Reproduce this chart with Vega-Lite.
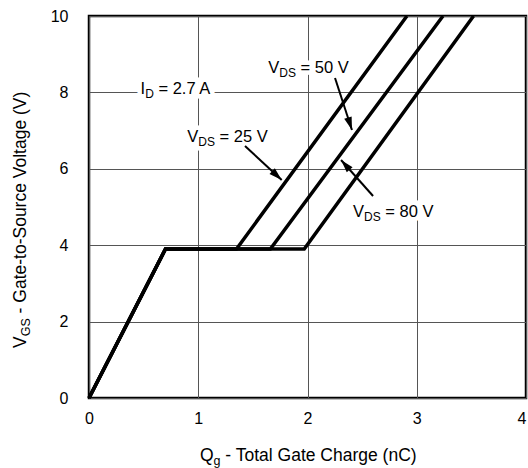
{
  "$schema": "https://vega.github.io/schema/vega-lite/v6.json",
  "width": 437,
  "height": 382,
  "autosize": {"type": "none"},
  "padding": {"left": 89, "top": 16, "right": 2, "bottom": 70},
  "background": "white",
  "config": {
    "font": "Liberation Sans",
    "view": {"stroke": "black", "strokeWidth": 2.5},
    "axis": {
      "grid": true, "gridColor": "#555", "gridWidth": 1, "gridOpacity": 1,
      "ticks": false, "tickSize": 0, "domain": false, "labelFlush": false,
      "labelFont": "Liberation Sans", "labelFontSize": 16, "labelColor": "black"
    }
  },
  "datasets": {
    "curves": [
      {"series": "25 V", "x": 0, "y": 0},
      {"series": "25 V", "x": 0.70, "y": 3.9},
      {"series": "25 V", "x": 1.35, "y": 3.9},
      {"series": "25 V", "x": 2.91, "y": 10},
      {"series": "50 V", "x": 0, "y": 0},
      {"series": "50 V", "x": 0.70, "y": 3.9},
      {"series": "50 V", "x": 1.66, "y": 3.9},
      {"series": "50 V", "x": 3.24, "y": 10},
      {"series": "80 V", "x": 0, "y": 0},
      {"series": "80 V", "x": 0.70, "y": 3.9},
      {"series": "80 V", "x": 1.97, "y": 3.9},
      {"series": "80 V", "x": 3.52, "y": 10}
    ],
    "arrows": [
      {"lab": "25", "x": 1.428, "y": 6.597, "x2": 1.764, "y2": 5.707},
      {"lab": "50", "x": 2.252, "y": 8.377, "x2": 2.407, "y2": 7.016},
      {"lab": "80", "x": 2.600, "y": 5.288, "x2": 2.307, "y2": 6.230}
    ],
    "labels": [
      {"id": "id", "main": "I", "sub": "D", "rest": "= 2.7 A", "x": 0.514, "y": 7.95},
      {"id": "v50", "main": "V", "sub": "DS", "rest": "= 50 V", "x": 1.742, "y": 8.508},
      {"id": "v25", "main": "V", "sub": "DS", "rest": "= 25 V", "x": 1.0, "y": 6.71},
      {"id": "v80", "main": "V", "sub": "DS", "rest": "= 80 V", "x": 2.517, "y": 4.73}
    ],
    "titles": [
      {"kind": "x", "main": "Q", "sub": "g", "rest": "- Total Gate Charge (nC)", "x": 1.14, "y": -1.649},
      {"kind": "y", "main": "V", "sub": "GS", "rest": "- Gate-to-Source Voltage (V)", "x": -0.577, "y": 1.615}
    ]
  },
  "encoding": {
    "x": {"field": "x", "type": "quantitative", "scale": {"domain": [0, 4]}, "axis": {"values": [0, 1, 2, 3, 4], "title": null, "labelPadding": 12, "labelFlush": false, "labelAlign": {"condition": {"test": "datum.value === 4", "value": "right"}, "value": "center"}}},
    "y": {"field": "y", "type": "quantitative", "scale": {"domain": [0, 10]}, "axis": {"values": [0, 2, 4, 6, 8, 10], "title": null, "labelPadding": 21, "labelFlush": false}}
  },
  "layer": [
    {
      "data": {"name": "labels"},
      "mark": {"type": "text", "font": "Liberation Sans", "fontSize": 16.5, "align": "right", "baseline": "alphabetic", "fill": "white", "stroke": "white", "strokeWidth": 9, "clip": false},
      "encoding": {"text": {"field": "main"}}
    },
    {
      "data": {"name": "labels"},
      "mark": {"type": "text", "font": "Liberation Sans", "fontSize": 12, "align": "left", "baseline": "alphabetic", "dy": 4, "fill": "white", "stroke": "white", "strokeWidth": 9, "clip": false},
      "encoding": {"text": {"field": "sub"}}
    },
    {
      "data": {"name": "labels"},
      "transform": [{"filter": "datum.sub === 'DS'"}],
      "mark": {"type": "text", "font": "Liberation Sans", "fontSize": 16.5, "align": "left", "baseline": "alphabetic", "dx": 21.3, "fill": "white", "stroke": "white", "strokeWidth": 9, "clip": false},
      "encoding": {"text": {"field": "rest"}}
    },
    {
      "data": {"name": "labels"},
      "transform": [{"filter": "datum.sub === 'D'"}],
      "mark": {"type": "text", "font": "Liberation Sans", "fontSize": 16.5, "align": "left", "baseline": "alphabetic", "dx": 13.3, "fill": "white", "stroke": "white", "strokeWidth": 9, "clip": false},
      "encoding": {"text": {"field": "rest"}}
    },
    {
      "data": {"name": "curves"},
      "mark": {"type": "line", "color": "black", "strokeWidth": 3.5, "strokeJoin": "miter"},
      "encoding": {"detail": {"field": "series"}}
    },
    {
      "data": {"name": "arrows"},
      "mark": {"type": "rule", "color": "black", "strokeWidth": 2},
      "encoding": {"x2": {"field": "x2"}, "y2": {"field": "y2"}}
    },
    {
      "data": {"name": "arrows"},
      "transform": [{"filter": "datum.lab === '25'"}],
      "mark": {"type": "point", "shape": "M0,0L-0.6,2L0.6,2Z", "size": 169, "filled": true, "color": "black", "opacity": 1, "strokeWidth": 0, "angle": 132.8},
      "encoding": {
        "x": {"field": "x2", "type": "quantitative", "scale": {"domain": [0, 4]}, "axis": {"values": [0, 1, 2, 3, 4], "title": null, "labelPadding": 12, "labelFlush": false, "labelAlign": {"condition": {"test": "datum.value === 4", "value": "right"}, "value": "center"}}},
        "y": {"field": "y2", "type": "quantitative", "scale": {"domain": [0, 10]}, "axis": {"values": [0, 2, 4, 6, 8, 10], "title": null, "labelPadding": 21, "labelFlush": false}}
      }
    },
    {
      "data": {"name": "arrows"},
      "transform": [{"filter": "datum.lab === '50'"}],
      "mark": {"type": "point", "shape": "M0,0L-0.6,2L0.6,2Z", "size": 169, "filled": true, "color": "black", "opacity": 1, "strokeWidth": 0, "angle": 161.9},
      "encoding": {
        "x": {"field": "x2", "type": "quantitative", "scale": {"domain": [0, 4]}, "axis": {"values": [0, 1, 2, 3, 4], "title": null, "labelPadding": 12, "labelFlush": false, "labelAlign": {"condition": {"test": "datum.value === 4", "value": "right"}, "value": "center"}}},
        "y": {"field": "y2", "type": "quantitative", "scale": {"domain": [0, 10]}, "axis": {"values": [0, 2, 4, 6, 8, 10], "title": null, "labelPadding": 21, "labelFlush": false}}
      }
    },
    {
      "data": {"name": "arrows"},
      "transform": [{"filter": "datum.lab === '80'"}],
      "mark": {"type": "point", "shape": "M0,0L-0.6,2L0.6,2Z", "size": 169, "filled": true, "color": "black", "opacity": 1, "strokeWidth": 0, "angle": 318.4},
      "encoding": {
        "x": {"field": "x2", "type": "quantitative", "scale": {"domain": [0, 4]}, "axis": {"values": [0, 1, 2, 3, 4], "title": null, "labelPadding": 12, "labelFlush": false, "labelAlign": {"condition": {"test": "datum.value === 4", "value": "right"}, "value": "center"}}},
        "y": {"field": "y2", "type": "quantitative", "scale": {"domain": [0, 10]}, "axis": {"values": [0, 2, 4, 6, 8, 10], "title": null, "labelPadding": 21, "labelFlush": false}}
      }
    },
    {
      "data": {"name": "labels"},
      "mark": {"type": "text", "font": "Liberation Sans", "fontSize": 16.5, "align": "right", "baseline": "alphabetic", "color": "black", "clip": false},
      "encoding": {"text": {"field": "main"}}
    },
    {
      "data": {"name": "labels"},
      "mark": {"type": "text", "font": "Liberation Sans", "fontSize": 12, "align": "left", "baseline": "alphabetic", "dy": 4, "color": "black", "clip": false},
      "encoding": {"text": {"field": "sub"}}
    },
    {
      "data": {"name": "labels"},
      "transform": [{"filter": "datum.sub === 'DS'"}],
      "mark": {"type": "text", "font": "Liberation Sans", "fontSize": 16.5, "align": "left", "baseline": "alphabetic", "dx": 21.3, "color": "black", "clip": false},
      "encoding": {"text": {"field": "rest"}}
    },
    {
      "data": {"name": "labels"},
      "transform": [{"filter": "datum.sub === 'D'"}],
      "mark": {"type": "text", "font": "Liberation Sans", "fontSize": 16.5, "align": "left", "baseline": "alphabetic", "dx": 13.3, "color": "black", "clip": false},
      "encoding": {"text": {"field": "rest"}}
    },
    {
      "data": {"name": "titles"},
      "transform": [{"filter": "datum.kind === 'x'"}],
      "mark": {"type": "text", "font": "Liberation Sans", "fontSize": 17.5, "align": "right", "baseline": "alphabetic", "color": "black", "clip": false},
      "encoding": {"text": {"field": "main"}}
    },
    {
      "data": {"name": "titles"},
      "transform": [{"filter": "datum.kind === 'x'"}],
      "mark": {"type": "text", "font": "Liberation Sans", "fontSize": 12.5, "align": "left", "baseline": "alphabetic", "dy": 4, "color": "black", "clip": false},
      "encoding": {"text": {"field": "sub"}}
    },
    {
      "data": {"name": "titles"},
      "transform": [{"filter": "datum.kind === 'x'"}],
      "mark": {"type": "text", "font": "Liberation Sans", "fontSize": 17.5, "align": "left", "baseline": "alphabetic", "dx": 11.8, "color": "black", "clip": false},
      "encoding": {"text": {"field": "rest"}}
    },
    {
      "data": {"name": "titles"},
      "transform": [{"filter": "datum.kind === 'y'"}],
      "mark": {"type": "text", "font": "Liberation Sans", "fontSize": 17.5, "align": "right", "baseline": "alphabetic", "angle": 270, "color": "black", "clip": false},
      "encoding": {"text": {"field": "main"}}
    },
    {
      "data": {"name": "titles"},
      "transform": [{"filter": "datum.kind === 'y'"}],
      "mark": {"type": "text", "font": "Liberation Sans", "fontSize": 12.5, "align": "left", "baseline": "alphabetic", "angle": 270, "dy": 4, "color": "black", "clip": false},
      "encoding": {"text": {"field": "sub"}}
    },
    {
      "data": {"name": "titles"},
      "transform": [{"filter": "datum.kind === 'y'"}],
      "mark": {"type": "text", "font": "Liberation Sans", "fontSize": 17.5, "align": "left", "baseline": "alphabetic", "angle": 270, "dx": 22.9, "color": "black", "clip": false},
      "encoding": {"text": {"field": "rest"}}
    }
  ]
}
